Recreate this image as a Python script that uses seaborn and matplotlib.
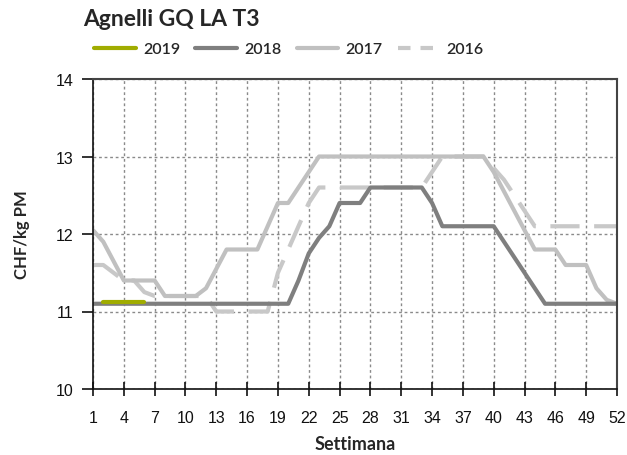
import matplotlib
matplotlib.use("Agg")
import matplotlib.pyplot as plt
import seaborn as sns

# settimane e prezzi CHF/kg PM
weeks = list(range(1, 53))

prezzi_2018 = [11.1, 11.1, 11.1, 11.1, 11.1, 11.1, 11.1, 11.1, 11.1, 11.1,
               11.1, 11.1, 11.1, 11.1, 11.1, 11.1, 11.1, 11.1, 11.1, 11.1,
               11.4, 11.75, 11.95, 12.1, 12.4, 12.4, 12.4, 12.6, 12.6, 12.6,
               12.6, 12.6, 12.6, 12.4, 12.1, 12.1, 12.1, 12.1, 12.1, 12.1,
               11.9, 11.7, 11.5, 11.3, 11.1, 11.1, 11.1, 11.1, 11.1, 11.1,
               11.1, 11.1]

prezzi_2017 = [12.05, 11.9, 11.65, 11.4, 11.4, 11.4, 11.4, 11.2, 11.2, 11.2,
               11.2, 11.3, 11.55, 11.8, 11.8, 11.8, 11.8, 12.1, 12.4, 12.4,
               12.6, 12.8, 13.0, 13.0, 13.0, 13.0, 13.0, 13.0, 13.0, 13.0,
               13.0, 13.0, 13.0, 13.0, 13.0, 13.0, 13.0, 13.0, 13.0, 12.8,
               12.55, 12.3, 12.05, 11.8, 11.8, 11.8, 11.6, 11.6, 11.6, 11.3,
               11.15, 11.1]

prezzi_2016 = [11.6, 11.6, 11.5, 11.4, 11.4, 11.25, 11.2, 11.2, 11.2, 11.2,
               11.2, 11.2, 11.0, 11.0, 11.0, 11.0, 11.0, 11.0, 11.5, 11.8,
               12.1, 12.4, 12.6, 12.6, 12.6, 12.6, 12.6, 12.6, 12.6, 12.6,
               12.6, 12.6, 12.6, 12.8, 13.0, 13.0, 13.0, 13.0, 13.0, 12.85,
               12.7, 12.5, 12.3, 12.1, 12.1, 12.1, 12.1, 12.1, 12.1, 12.1,
               12.1, 12.1]

weeks_2019 = [2, 3, 4, 5, 6]
prezzi_2019 = [11.12, 11.12, 11.12, 11.12, 11.12]

xtick_weeks = list(range(1, 53, 3))
ytick_vals = [10, 11, 12, 13, 14]

sns.set_style("white")
plt.rcParams['font.family'] = ['Liberation Sans Narrow', 'Liberation Sans', 'DejaVu Sans']

fig = plt.figure(figsize=(6.27, 4.56), dpi=100)
ax = fig.add_axes([93 / 627, 66 / 456, 524 / 627, 310 / 456])

lw = 3.0
sns.lineplot(x=weeks, y=prezzi_2016, ax=ax, color='#c8c8c8', linewidth=lw,
             label='2016', dashes=False)
ax.lines[-1].set_dashes((7, 3.5))
ax.lines[-1].set_dash_capstyle('butt')
sns.lineplot(x=weeks, y=prezzi_2017, ax=ax, color='#c0c0c0', linewidth=lw, label='2017')
sns.lineplot(x=weeks, y=prezzi_2018, ax=ax, color='#7f7f7f', linewidth=lw, label='2018')
sns.lineplot(x=weeks_2019, y=prezzi_2019, ax=ax, color='#a0ac00', linewidth=lw, label='2019')

ax.set_xlim(1, 52)
ax.set_ylim(10, 14)
ax.set_xticks(xtick_weeks)
ax.set_yticks(ytick_vals)

ax.grid(True, color='#8a8a8a', linestyle=(0, (2, 2)), linewidth=1.0)
ax.set_axisbelow(True)
for side in ['left', 'bottom']:
    ax.spines[side].set_color('#111111')
    ax.spines[side].set_linewidth(1.2)
for side in ['top', 'right']:
    ax.spines[side].set_color('#444444')
    ax.spines[side].set_linewidth(1.5)

ax.tick_params(axis='y', direction='out', length=8, width=1.2, pad=6,
               labelsize=11.5, colors='#111111', left=True)
ax.tick_params(axis='x', direction='inout', length=10, width=1.2, pad=10,
               labelsize=11.5, colors='#111111', bottom=True)

ax.set_xlabel('Settimana', fontsize=13, fontweight='bold', family=['Lato', 'DejaVu Sans'])
ax.set_ylabel('CHF/kg PM', fontsize=12, fontweight='bold', family=['Lato', 'DejaVu Sans'])
ax.xaxis.set_label_coords(0.5, -0.15)
ax.yaxis.set_label_coords(-0.12, 0.5)

fig.text(83 / 627, 1 - 20 / 456, 'Agnelli GQ LA T3', fontsize=16.5, fontweight='bold',
         family=['Lato', 'DejaVu Sans'], va='center', ha='left')

# legenda nell'ordine 2019, 2018, 2017, 2016
handles, labels = ax.get_legend_handles_labels()
order = [labels.index(l) for l in ['2019', '2018', '2017', '2016']]
leg = ax.legend([handles[i] for i in order], [labels[i] for i in order],
                loc='center left', bbox_to_anchor=(80 / 627, 1 - 50 / 456),
                bbox_transform=fig.transFigure, ncol=4, frameon=False,
                handlelength=2.6, handletextpad=0.45, columnspacing=0.95,
                prop={'family': ['Lato', 'DejaVu Sans'], 'size': 11.5, 'weight': 'semibold'})
leg.get_lines()[3].set_dashes((3, 2.4))

fig.savefig('out.png', dpi=100)
